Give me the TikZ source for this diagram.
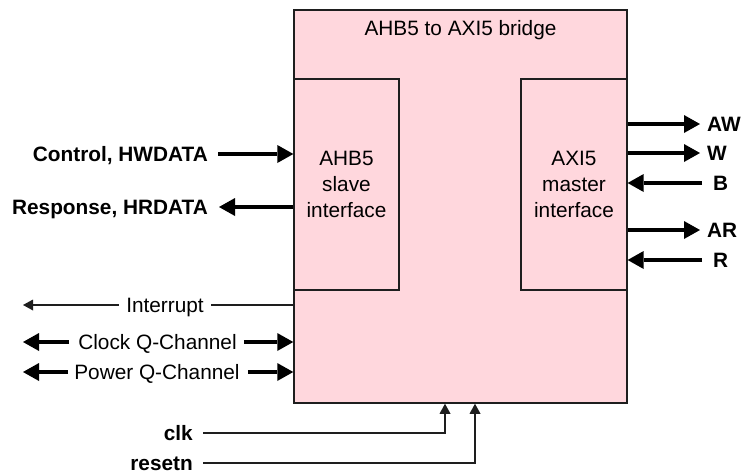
\documentclass[tikz,border=0pt]{standalone}
\usepackage{fontspec}
\setmainfont{Liberation Sans}
\usetikzlibrary{arrows.meta}
\definecolor{blockfill}{RGB}{255,215,221}
\definecolor{edge}{RGB}{30,30,30}
\begin{document}
\begin{tikzpicture}[x=1pt,y=-1pt,
  txt/.style={font=\fontsize{20.8}{26}\selectfont, inner sep=0pt, text=black},
  lbl/.style={txt, text height=14.9pt, text depth=0pt},
  bold/.style={font=\fontsize{20.8}{26}\selectfont\bfseries},
  block/.style={draw=edge, fill=blockfill, line width=1.3pt, inner sep=0pt},
  bigarrow/.style={line width=4pt, draw=black,
    -{Triangle[length=16pt, width=18pt, line width=0pt]}},
  thinline/.style={line width=1.3pt, draw=edge},
  thinarrow/.style={thinline, -{Triangle[length=10pt, width=11pt, line width=0pt]}}
]
\useasboundingbox (0,0) rectangle (742,472);

% bridge block and its two interfaces
\node[block, line width=1.5pt, minimum width=333pt, minimum height=393pt] (bridge) at (460.5,206.5) {};
\node[block, minimum width=105pt, minimum height=211pt] (slave) at (346.5,184.5) {};
\node[block, minimum width=106pt, minimum height=211pt] (master) at (574,184.5) {};

\node[lbl] (title) at (460.5,28) {AHB5 to AXI5 bridge};
\node[txt, align=center] (slavetxt) at (slave.center) {AHB5\\slave\\interface};
\node[txt, align=center] (mastertxt) at (master.center) {AXI5\\master\\interface};

% AHB5 side
\node[lbl, bold, anchor=east] (ctl) at (208,154) {Control, HWDATA};
\node[lbl, bold, anchor=east] (rsp) at (208,207) {Response, HRDATA};
\draw[bigarrow] ([xshift=10pt]ctl.east) -- (ctl -| slave.west);
\draw[bigarrow] (rsp -| slave.west) -- ([xshift=11pt]rsp.east);

% interrupt and Q-channels
\node[lbl, inner xsep=7.5pt] (irq) at (165,305) {Interrupt};
\coordinate (irqend) at (23,305);
\draw[thinline] (irq -| bridge.west) -- (irq.east);
\draw[thinarrow] (irq.west) -- (irqend);

\node[lbl] (qclk) at (157.5,342) {Clock Q-Channel};
\node[lbl] (qpwr) at (157,372) {Power Q-Channel};
\coordinate (qclkend) at (23,342);
\coordinate (qpwrend) at (23,372);
\draw[bigarrow] ([xshift=-9pt]qclk.west) -- (qclkend);
\draw[bigarrow] ([xshift=7pt]qclk.east) -- (qclk -| bridge.west);
\draw[bigarrow] ([xshift=-6pt]qpwr.west) -- (qpwrend);
\draw[bigarrow] ([xshift=8pt]qpwr.east) -- (qpwr -| bridge.west);

% clock and reset
\node[lbl, bold, anchor=east] (clk) at (193,433) {clk};
\node[lbl, bold, anchor=east] (rst) at (193,463) {resetn};
\draw[thinarrow] ([xshift=10pt]clk.east) -| ([xshift=-15.5pt]bridge.south);
\draw[thinarrow] ([xshift=10pt]rst.east) -| ([xshift=14.5pt]bridge.south);

% AXI5 channels
\node[lbl, bold, anchor=west] (aw) at (707,124) {AW};
\node[lbl, bold, anchor=west] (w) at (707,153) {W};
\node[lbl, bold, anchor=west] (b) at (713,183) {B};
\node[lbl, bold, anchor=west] (ar) at (707,230) {AR};
\node[lbl, bold, anchor=west] (r) at (713,260) {R};
\draw[bigarrow] (aw -| master.east) -- ([xshift=-7pt]aw.west);
\draw[bigarrow] (w -| master.east) -- ([xshift=-7pt]w.west);
\draw[bigarrow] ([xshift=-11pt]b.west) -- (b -| master.east);
\draw[bigarrow] (ar -| master.east) -- ([xshift=-7pt]ar.west);
\draw[bigarrow] ([xshift=-11pt]r.west) -- (r -| master.east);
\end{tikzpicture}
\end{document}
